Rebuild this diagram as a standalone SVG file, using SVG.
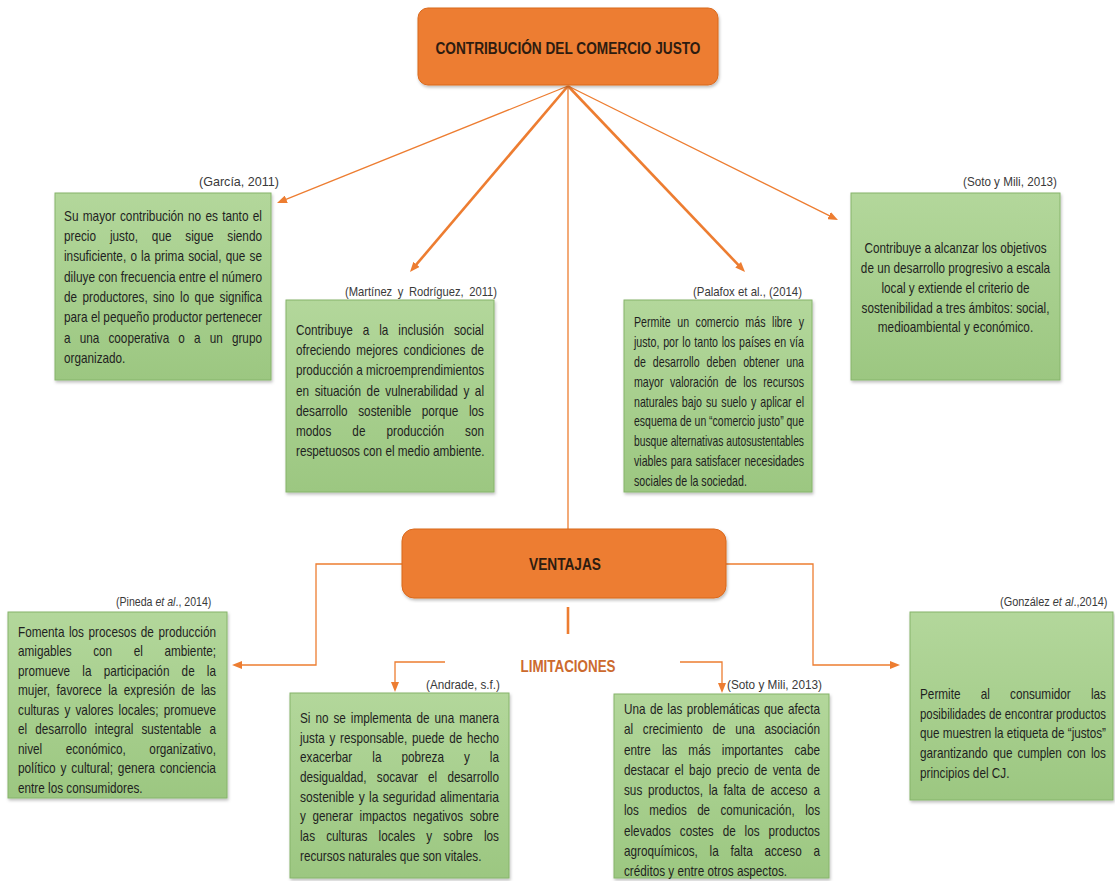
<svg xmlns="http://www.w3.org/2000/svg" width="1115" height="881" viewBox="0 0 1115 881">
<defs>
<linearGradient id="gr" x1="0" y1="0" x2="0" y2="1">
<stop offset="0" stop-color="#B3D79B"/>
<stop offset="1" stop-color="#9CC781"/>
</linearGradient>
<filter id="sh" x="-5%" y="-5%" width="112%" height="112%">
<feDropShadow dx="1" dy="2" stdDeviation="1.5" flood-color="#000" flood-opacity="0.25"/>
</filter>
<marker id="ah" markerUnits="userSpaceOnUse" markerWidth="10" markerHeight="8" refX="3" refY="4" orient="auto">
<path d="M0,0 L10,4 L0,8 z" fill="#ED7D31"/>
</marker>
<style>
.box{fill:url(#gr);stroke:#86B46B;stroke-width:1;filter:url(#sh)}
.ob{fill:#ED7D31;stroke:#D9691D;stroke-width:1;filter:url(#sh)}
.t{font-family:"Liberation Sans",Arial,sans-serif;font-size:14px;fill:#1f1f1f}
.lb{font-family:"Liberation Sans",Arial,sans-serif;font-size:13.5px;fill:#3a3a3a}
.hd{font-family:"Liberation Sans",Arial,sans-serif;font-size:16px;font-weight:bold;fill:#2E1C10}
.lim{font-family:"Liberation Sans",Arial,sans-serif;font-size:16px;font-weight:bold;fill:#CC6A2E}
.ln{stroke:#ED7D31;fill:none;stroke-width:1.3}
.thk{stroke-width:2.6}
</style>
</defs>
<rect width="1115" height="881" fill="#FFFFFF"/>

<g id="connectors">
<path class="ln" d="M568,86 L283.5,200.4" marker-end="url(#ah)"/>
<path class="ln thk" d="M568,86 L414.5,266.7" marker-end="url(#ah)"/>
<path class="ln" d="M568,86 L568,529"/>
<path class="ln thk" d="M568,86 L740.2,266.9" marker-end="url(#ah)"/>
<path class="ln" d="M568,86 L831.7,216.9" marker-end="url(#ah)"/>
<path class="ln" d="M402,564 H316 V665 H239" marker-end="url(#ah)"/>
<path class="ln" d="M726,564 H813 V665 H893" marker-end="url(#ah)"/>
<path class="ln thk" d="M568,607 V634"/>
<path class="ln" d="M445,662 H395 V685" marker-end="url(#ah)"/>
<path class="ln" d="M680,662 H722 V686" marker-end="url(#ah)"/>
</g>

<g id="title">
<rect class="ob" x="418" y="8" width="300" height="77" rx="10"/>
<text class="hd" x="568" y="54" text-anchor="middle" textLength="265" lengthAdjust="spacingAndGlyphs">CONTRIBUCIÓN DEL COMERCIO JUSTO</text>
</g>

<g id="garcia">
<text class="lb" x="199" y="186" textLength="80" lengthAdjust="spacingAndGlyphs">(García, 2011)</text>
<rect class="box" x="55" y="193" width="216" height="187"/>
<g transform="translate(64,0) scale(0.84,1)">
<text class="t" y="221" textLength="235.7" lengthAdjust="spacingAndGlyphs" style="word-spacing:1.2px">Su mayor contribución no es tanto el</text>
<text class="t" y="241" textLength="235.7" lengthAdjust="spacingAndGlyphs" style="word-spacing:12.6px">precio justo, que sigue siendo</text>
<text class="t" y="261" textLength="235.7" lengthAdjust="spacingAndGlyphs" style="word-spacing:1.1px">insuficiente, o la prima social, que se</text>
<text class="t" y="282" textLength="235.7" lengthAdjust="spacingAndGlyphs">diluye con frecuencia entre el número</text>
<text class="t" y="302" textLength="235.7" lengthAdjust="spacingAndGlyphs" style="word-spacing:2.6px">de productores, sino lo que significa</text>
<text class="t" y="322" textLength="235.7" lengthAdjust="spacingAndGlyphs">para el pequeño productor pertenecer</text>
<text class="t" y="343" textLength="235.7" lengthAdjust="spacingAndGlyphs" style="word-spacing:7px">a una cooperativa o a un grupo</text>
<text class="t" y="363">organizado.</text>
</g>
</g>

<g id="martinez">
<text class="lb" x="345" y="296" textLength="152" lengthAdjust="spacingAndGlyphs" style="word-spacing:3px">(Martínez y Rodríguez, 2011)</text>
<rect class="box" x="286" y="300" width="208" height="192"/>
<g transform="translate(296,0) scale(0.84,1)">
<text class="t" y="335" textLength="223.8" lengthAdjust="spacingAndGlyphs" style="word-spacing:7.9px">Contribuye a la inclusión social</text>
<text class="t" y="355" textLength="223.8" lengthAdjust="spacingAndGlyphs" style="word-spacing:3px">ofreciendo mejores condiciones de</text>
<text class="t" y="375" textLength="223.8" lengthAdjust="spacingAndGlyphs">producción a microemprendimientos</text>
<text class="t" y="396" textLength="223.8" lengthAdjust="spacingAndGlyphs" style="word-spacing:2.7px">en situación de vulnerabilidad y al</text>
<text class="t" y="416" textLength="223.8" lengthAdjust="spacingAndGlyphs" style="word-spacing:8.7px">desarrollo sostenible porque los</text>
<text class="t" y="436" textLength="223.8" lengthAdjust="spacingAndGlyphs" style="word-spacing:21.2px">modos de producción son</text>
<text class="t" y="456">respetuosos con el medio ambiente.</text>
</g>
</g>

<g id="palafox">
<text class="lb" x="693" y="296" textLength="109" lengthAdjust="spacingAndGlyphs">(Palafox et al., (2014)</text>
<rect class="box" x="624" y="300" width="188" height="192"/>
<g transform="translate(634,0) scale(0.76,1)">
<text class="t" y="327" textLength="223.7" lengthAdjust="spacingAndGlyphs" style="word-spacing:4.7px">Permite un comercio más libre y</text>
<text class="t" y="347" textLength="223.7" lengthAdjust="spacingAndGlyphs" style="word-spacing:1px">justo, por lo tanto los países en vía</text>
<text class="t" y="367" textLength="223.7" lengthAdjust="spacingAndGlyphs" style="word-spacing:5.3px">de desarrollo deben obtener una</text>
<text class="t" y="387" textLength="223.7" lengthAdjust="spacingAndGlyphs" style="word-spacing:4.6px">mayor valoración de los recursos</text>
<text class="t" y="407" textLength="223.7" lengthAdjust="spacingAndGlyphs" style="word-spacing:1.5px">naturales bajo su suelo y aplicar el</text>
<text class="t" y="426" textLength="223.7" lengthAdjust="spacingAndGlyphs">esquema de un “comercio justo” que</text>
<text class="t" y="446" textLength="223.7" lengthAdjust="spacingAndGlyphs">busque alternativas autosustentables</text>
<text class="t" y="466" textLength="223.7" lengthAdjust="spacingAndGlyphs" style="word-spacing:0.9px">viables para satisfacer necesidades</text>
<text class="t" y="486">sociales de la sociedad.</text>
</g>
</g>

<g id="soto1">
<text class="lb" x="963" y="186" textLength="94" lengthAdjust="spacingAndGlyphs">(Soto y Mili, 2013)</text>
<rect class="box" x="851" y="193" width="209" height="187"/>
<g transform="translate(955.5,0) scale(0.84,1)" text-anchor="middle">
<text class="t" y="253">Contribuye a alcanzar los objetivos</text>
<text class="t" y="273">de un desarrollo progresivo a escala</text>
<text class="t" y="293">local y extiende el criterio de</text>
<text class="t" y="313">sostenibilidad a tres ámbitos: social,</text>
<text class="t" y="332">medioambiental y económico.</text>
</g>
</g>

<g id="ventajas">
<rect class="ob" x="402" y="529" width="324" height="69" rx="12"/>
<text class="hd" x="565" y="570" text-anchor="middle" textLength="72" lengthAdjust="spacingAndGlyphs">VENTAJAS</text>
</g>

<g id="limitaciones">
<text class="lim" x="568" y="672" text-anchor="middle" textLength="95" lengthAdjust="spacingAndGlyphs">LIMITACIONES</text>
</g>

<g id="pineda">
<text class="lb" transform="translate(116,606) scale(0.785,1)">(Pineda <tspan font-style="italic">et al</tspan>., 2014)</text>
<rect class="box" x="8" y="612" width="219" height="186"/>
<g transform="translate(18,0) scale(0.84,1)">
<text class="t" y="637" textLength="235.7" lengthAdjust="spacingAndGlyphs" style="word-spacing:1.5px">Fomenta los procesos de producción</text>
<text class="t" y="656" textLength="235.7" lengthAdjust="spacingAndGlyphs" style="word-spacing:21.8px">amigables con el ambiente;</text>
<text class="t" y="676" textLength="235.7" lengthAdjust="spacingAndGlyphs" style="word-spacing:10.7px">promueve la participación de la</text>
<text class="t" y="695" textLength="235.7" lengthAdjust="spacingAndGlyphs" style="word-spacing:3.7px">mujer, favorece la expresión de las</text>
<text class="t" y="715" textLength="235.7" lengthAdjust="spacingAndGlyphs" style="word-spacing:2.3px">culturas y valores locales; promueve</text>
<text class="t" y="734" textLength="235.7" lengthAdjust="spacingAndGlyphs" style="word-spacing:5.8px">el desarrollo integral sustentable a</text>
<text class="t" y="754" textLength="235.7" lengthAdjust="spacingAndGlyphs" style="word-spacing:24.1px">nivel económico, organizativo,</text>
<text class="t" y="773" textLength="235.7" lengthAdjust="spacingAndGlyphs" style="word-spacing:1.8px">político y cultural; genera conciencia</text>
<text class="t" y="793">entre los consumidores.</text>
</g>
</g>

<g id="gonzalez">
<text class="lb" transform="translate(1000,606) scale(0.81,1)">(González <tspan font-style="italic">et al</tspan>.,2014)</text>
<rect class="box" x="910" y="612" width="203" height="188"/>
<g transform="translate(920,0) scale(0.84,1)">
<text class="t" y="699" textLength="221.4" lengthAdjust="spacingAndGlyphs" style="word-spacing:20.1px">Permite al consumidor las</text>
<text class="t" y="719" textLength="221.4" lengthAdjust="spacingAndGlyphs">posibilidades de encontrar productos</text>
<text class="t" y="738" textLength="221.4" lengthAdjust="spacingAndGlyphs">que muestren la etiqueta de “justos”</text>
<text class="t" y="758" textLength="221.4" lengthAdjust="spacingAndGlyphs" style="word-spacing:2.2px">garantizando que cumplen con los</text>
<text class="t" y="778">principios del CJ.</text>
</g>
</g>

<g id="andrade">
<text class="lb" x="426" y="689" textLength="74" lengthAdjust="spacingAndGlyphs">(Andrade, s.f.)</text>
<rect class="box" x="290" y="693" width="219" height="185"/>
<g transform="translate(300,0) scale(0.84,1)">
<text class="t" y="723" textLength="236.9" lengthAdjust="spacingAndGlyphs" style="word-spacing:2px">Si no se implementa de una manera</text>
<text class="t" y="743" textLength="236.9" lengthAdjust="spacingAndGlyphs" style="word-spacing:1.8px">justa y responsable, puede de hecho</text>
<text class="t" y="762" textLength="236.9" lengthAdjust="spacingAndGlyphs" style="word-spacing:19.9px">exacerbar la pobreza y la</text>
<text class="t" y="782" textLength="236.9" lengthAdjust="spacingAndGlyphs" style="word-spacing:8.2px">desigualdad, socavar el desarrollo</text>
<text class="t" y="802" textLength="236.9" lengthAdjust="spacingAndGlyphs" style="word-spacing:1.1px">sostenible y la seguridad alimentaria</text>
<text class="t" y="821" textLength="236.9" lengthAdjust="spacingAndGlyphs" style="word-spacing:4.2px">y generar impactos negativos sobre</text>
<text class="t" y="841" textLength="236.9" lengthAdjust="spacingAndGlyphs" style="word-spacing:9.4px">las culturas locales y sobre los</text>
<text class="t" y="861">recursos naturales que son vitales.</text>
</g>
</g>

<g id="soto2">
<text class="lb" x="727" y="689" textLength="95" lengthAdjust="spacingAndGlyphs">(Soto y Mili, 2013)</text>
<rect class="box" x="614" y="694" width="215" height="184"/>
<g transform="translate(624,0) scale(0.84,1)">
<text class="t" y="714" textLength="233.3" lengthAdjust="spacingAndGlyphs" style="word-spacing:1.4px">Una de las problemáticas que afecta</text>
<text class="t" y="734" textLength="233.3" lengthAdjust="spacingAndGlyphs" style="word-spacing:7.6px">al crecimiento de una asociación</text>
<text class="t" y="755" textLength="233.3" lengthAdjust="spacingAndGlyphs" style="word-spacing:9.5px">entre las más importantes cabe</text>
<text class="t" y="775" textLength="233.3" lengthAdjust="spacingAndGlyphs" style="word-spacing:2.6px">destacar el bajo precio de venta de</text>
<text class="t" y="795" textLength="233.3" lengthAdjust="spacingAndGlyphs" style="word-spacing:3px">sus productos, la falta de acceso a</text>
<text class="t" y="815" textLength="233.3" lengthAdjust="spacingAndGlyphs" style="word-spacing:8.7px">los medios de comunicación, los</text>
<text class="t" y="836" textLength="233.3" lengthAdjust="spacingAndGlyphs" style="word-spacing:6.8px">elevados costes de los productos</text>
<text class="t" y="856" textLength="233.3" lengthAdjust="spacingAndGlyphs" style="word-spacing:10.1px">agroquímicos, la falta acceso a</text>
<text class="t" y="876">créditos y entre otros aspectos.</text>
</g>
</g>
</svg>
